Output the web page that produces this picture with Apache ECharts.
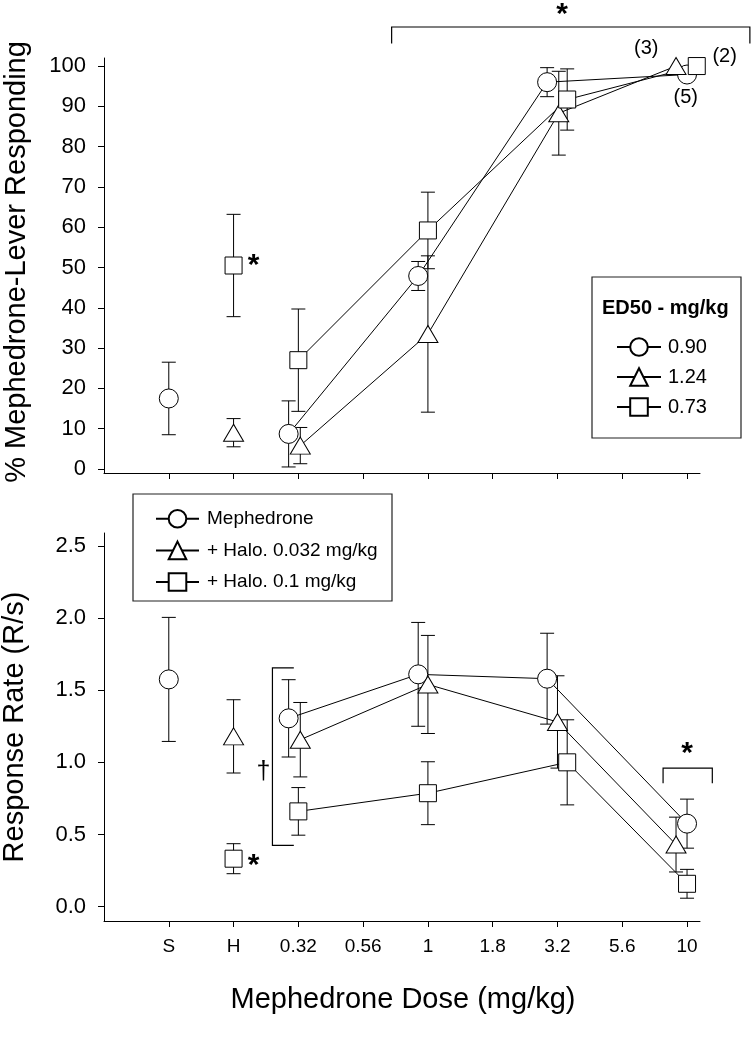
<!DOCTYPE html>
<html><head><meta charset="utf-8">
<script src="https://cdn.jsdelivr.net/npm/echarts@6/dist/echarts.min.js"></script>
<style>html,body{margin:0;padding:0;background:#fff}#c{width:751px;height:1050px}</style>
</head><body><div id="c"></div>
<script>
// ---------- DATA ----------
const categories = ['S', 'H', '0.32', '0.56', '1', '1.8', '3.2', '5.6', '10'];
const yTicksTop = [0, 10, 20, 30, 40, 50, 60, 70, 80, 90, 100];
const yTicksBottom = [0, 0.5, 1.0, 1.5, 2.0, 2.5];
const legendTopLabels = ['0.90', '1.24', '0.73'];
const legendBottomLabels = ['Mephedrone', '+ Halo. 0.032 mg/kg', '+ Halo. 0.1 mg/kg'];

// % mephedrone-lever responding (mean, SEM) at each category
const mephPct      = [17.5, null, 8.7, null, 47.9, null, 96.0, null, 97.9];
const mephPctErr   = [9.0,  null, 8.2, null, 3.6,  null, 3.6,  null, 0];
const halo032Pct    = [null, 9.0,  5.8, null, 33.5, null, 88.3, null, 100];
const halo032PctErr = [null, 3.5,  4.5, null, 19.4, null, 10.4, null, 0];
const halo01Pct     = [null, 50.5, 27.0, null, 59.2, null, 91.7, null, 100];
const halo01PctErr  = [null, 12.7, 12.7, null, 9.5,  null, 7.6,  null, 0];

// response rate (R/s) (mean, SEM)
const mephRate      = [1.575, null, 1.305, null, 1.61, null, 1.58, null, 0.575];
const mephRateErr   = [0.43,  null, 0.268, null, 0.36, null, 0.315, null, 0.17];
const halo032Rate    = [null, 1.18, 1.157, null, 1.54, null, 1.28, null, 0.43];
const halo032RateErr = [null, 0.254, 0.258, null, 0.34, null, 0.32, null, 0.19];
const halo01Rate     = [null, 0.332, 0.66, null, 0.786, null, 1.0, null, 0.158];
const halo01RateErr  = [null, 0.104, 0.165, null, 0.218, null, 0.295, null, 0.1];

// n labels at highest dose
const nLabels = ['(3)', '(2)', '(5)'];

// ---------- STYLE / LAYOUT ----------
const FONT = "'Liberation Sans', Arial, Helvetica, sans-serif";
// horizontal display offsets (in category units) so overlapping symbols stay visible
const jitTop = {
  c: [0, 0, -0.15, 0, -0.15, 0, -0.16, 0, 0],
  t: [0, 0, 0.03, 0, 0, 0, 0.02, 0, -0.17],
  s: [0, 0, 0, 0, 0, 0, 0.15, 0, 0.15]
};
const jitBot = {
  c: [0, 0, -0.15, 0, -0.15, 0, -0.16, 0, 0],
  t: [0, 0, 0.03, 0, 0, 0, 0, 0, -0.17],
  s: [0, 0, 0, 0, 0, 0, 0.15, 0, 0]
};
const SYM = {
  c: { symbol: 'circle', size: 19 },
  t: { symbol: 'triangle', size: [20, 17] },
  s: { symbol: 'rect', size: 17 }
};

function pts(vals, jit, from, to) {
  const out = [];
  for (let i = from; i <= to; i++) if (vals[i] != null) out.push([i + jit[i], vals[i]]);
  return out;
}
function errPts(vals, errs, jit) {
  const out = [];
  for (let i = 0; i < vals.length; i++)
    if (vals[i] != null && errs[i] > 0) out.push([i + jit[i], vals[i], errs[i]]);
  return out;
}
function renderErr(params, api) {
  const x = api.value(0), y = api.value(1), e = api.value(2);
  const hi = api.coord([x, y + e]), lo = api.coord([x, y - e]);
  const cw = 7;
  const st = { stroke: '#000', lineWidth: 1 };
  return { type: 'group', children: [
    { type: 'line', shape: { x1: hi[0], y1: hi[1], x2: lo[0], y2: lo[1] }, style: st },
    { type: 'line', shape: { x1: hi[0] - cw, y1: hi[1], x2: hi[0] + cw, y2: hi[1] }, style: st },
    { type: 'line', shape: { x1: lo[0] - cw, y1: lo[1], x2: lo[0] + cw, y2: lo[1] }, style: st }
  ]};
}

function groupSeries(panel, key, name, vals, errs, jit) {
  const s = SYM[key];
  const common = {
    xAxisIndex: panel, yAxisIndex: panel,
    symbol: s.symbol, symbolSize: s.size,
    itemStyle: { color: '#fff', borderColor: '#000', borderWidth: 1, opacity: 1 },
    lineStyle: { color: '#000', width: 1 },
    emphasis: { disabled: true }, silent: true, animation: false
  };
  return [
    { type: 'custom', name: name + ' err', xAxisIndex: panel, yAxisIndex: panel,
      renderItem: renderErr, data: errPts(vals, errs, jit), z: 1, silent: true, animation: false,
      encode: { x: 0, y: 1 }, clip: false },
    Object.assign({ type: 'line', name: name, data: pts(vals, jit, 2, 8), z: 3, showAllSymbol: true }, common),
    Object.assign({ type: 'scatter', name: name + ' ctrl', data: pts(vals, jit, 0, 1), z: 4 }, common)
  ];
}

const series = [].concat(
  groupSeries(0, 'c', legendTopLabels[0], mephPct, mephPctErr, jitTop.c),
  groupSeries(0, 't', legendTopLabels[1], halo032Pct, halo032PctErr, jitTop.t),
  groupSeries(0, 's', legendTopLabels[2], halo01Pct, halo01PctErr, jitTop.s),
  groupSeries(1, 'c', legendBottomLabels[0], mephRate, mephRateErr, jitBot.c),
  groupSeries(1, 't', legendBottomLabels[1], halo032Rate, halo032RateErr, jitBot.t),
  groupSeries(1, 's', legendBottomLabels[2], halo01Rate, halo01RateErr, jitBot.s)
);

const catIdx = categories.map((_, i) => i);
const axisLineStyle = { lineStyle: { color: '#000', width: 1 } };

function xAxis(grid, showLabels) {
  return {
    type: 'value', gridIndex: grid, min: -1, max: 8.2,
    axisLine: Object.assign({ show: true, onZero: false }, axisLineStyle),
    axisTick: { show: true, length: 6, customValues: catIdx, lineStyle: { color: '#000' } },
    axisLabel: { show: showLabels, customValues: catIdx, formatter: v => categories[Math.round(v)] || '',
      color: '#000', fontFamily: FONT, fontSize: 19, margin: 16 },
    splitLine: { show: false }
  };
}
function yAxis(grid, min, max, ticks, fmt) {
  return {
    type: 'value', gridIndex: grid, min: min, max: max,
    axisLine: Object.assign({ show: true, onZero: false }, axisLineStyle),
    axisTick: { show: true, length: 6, customValues: ticks, lineStyle: { color: '#000' } },
    axisLabel: { customValues: ticks, formatter: fmt, color: '#000', fontFamily: FONT, fontSize: 22, margin: 18 },
    splitLine: { show: false }
  };
}

const chart = echarts.init(document.getElementById('c'), null, { renderer: 'canvas' });
chart.setOption({
  animation: false,
  backgroundColor: '#fff',
  grid: [
    { left: 104, top: 58, width: 596, height: 415 },
    { left: 104, top: 533, width: 596, height: 388 }
  ],
  xAxis: [xAxis(0, false), xAxis(1, true)],
  yAxis: [
    yAxis(0, -1, 102, yTicksTop, v => String(v)),
    yAxis(1, -0.1, 2.59, yTicksBottom, v => v.toFixed(1))
  ],
  legend: [
    { data: legendTopLabels, orient: 'vertical', left: 611, top: 332, itemWidth: 44, itemHeight: 22, itemGap: 10,
      textStyle: { fontFamily: FONT, fontSize: 20, color: '#000', padding: [0, 0, 0, 2] }, selectedMode: false },
    { data: legendBottomLabels, orient: 'vertical', left: 150, top: 504, itemWidth: 43, itemHeight: 22, itemGap: 12,
      textStyle: { fontFamily: FONT, fontSize: 19, color: '#000', padding: [0, 0, 0, 3] }, selectedMode: false }
  ],
  series: series
});

// ---------- ANNOTATIONS (anchored in data space) ----------
const P0 = (x, y) => chart.convertToPixel({ gridIndex: 0 }, [x, y]);
const P1 = (x, y) => chart.convertToPixel({ gridIndex: 1 }, [x, y]);
const lineSt = { stroke: '#000', lineWidth: 1.2, fill: null };
const g = [];
function poly(points) { g.push({ type: 'polyline', shape: { points: points }, style: lineSt, z: 10, silent: true }); }
function txt(p, text, size, bold) {
  g.push({ type: 'text', x: p[0], y: p[1], z: 10, silent: true,
    style: { text: text, fontFamily: FONT, fontSize: size, fontWeight: bold ? 'bold' : 'normal', fill: '#000',
      align: 'center', verticalAlign: 'middle' } });
}
// top bracket over doses 1-10
{
  const a = P0(3.44, 109.7), b = P0(8.97, 109.7), a2 = P0(3.44, 105.6), b2 = P0(8.97, 105.6);
  poly([a2, a, b, b2]);
  txt(P0(6.07, 112.8), '*', 30, true);
}
// star next to square at H (top)
txt(P0(1.31, 50.5), '*', 30, true);
// n labels at 10 mg/kg
txt(P0(7.37, 104.4), nLabels[0], 20, false);
txt(P0(8.58, 102.5), nLabels[1], 20, false);
txt(P0(7.98, 92.3), nLabels[2], 20, false);
// legend boxes
g.push({ type: 'rect', shape: { x: 592, y: 277, width: 149, height: 161 }, style: { stroke: '#222', lineWidth: 1.2, fill: null }, z: 10, silent: true });
g.push({ type: 'text', x: 602, y: 308, style: { text: 'ED50 - mg/kg', fontFamily: FONT, fontSize: 20, fontWeight: 'bold', fill: '#000', verticalAlign: 'middle' }, z: 10, silent: true });
g.push({ type: 'rect', shape: { x: 133, y: 494, width: 259, height: 107 }, style: { stroke: '#222', lineWidth: 1.2, fill: null }, z: 10, silent: true });
// dagger bracket at 0.32 (bottom)
{
  const t = P1(1.60, 1.655), bt = P1(1.60, 0.425), t2 = P1(1.93, 1.655), b2 = P1(1.93, 0.425);
  poly([t2, t, bt, b2]);
  txt(P1(1.46, 0.93), '\u2020', 25, false);
}
// star next to square at H (bottom)
txt(P1(1.31, 0.28), '*', 30, true);
// bracket + star at 10 (bottom)
{
  const a = P1(7.63, 0.96), b = P1(8.39, 0.96), a2 = P1(7.63, 0.855), b2 = P1(8.39, 0.855);
  poly([a2, a, b, b2]);
  txt(P1(8.0, 1.06), '*', 30, true);
}
// axis titles
g.push({ type: 'text', x: 17, y: 262, rotation: Math.PI / 2, style: { text: '% Mephedrone-Lever Responding', fontFamily: FONT, fontSize: 29, fill: '#000', align: 'center', verticalAlign: 'middle' }, silent: true });
g.push({ type: 'text', x: 15, y: 727, rotation: Math.PI / 2, style: { text: 'Response Rate (R/s)', fontFamily: FONT, fontSize: 29, fill: '#000', align: 'center', verticalAlign: 'middle' }, silent: true });
g.push({ type: 'text', x: 403, y: 1000, style: { text: 'Mephedrone Dose (mg/kg)', fontFamily: FONT, fontSize: 29, fill: '#000', align: 'center', verticalAlign: 'middle' }, silent: true });

chart.setOption({ graphic: g });
</script></body></html>
